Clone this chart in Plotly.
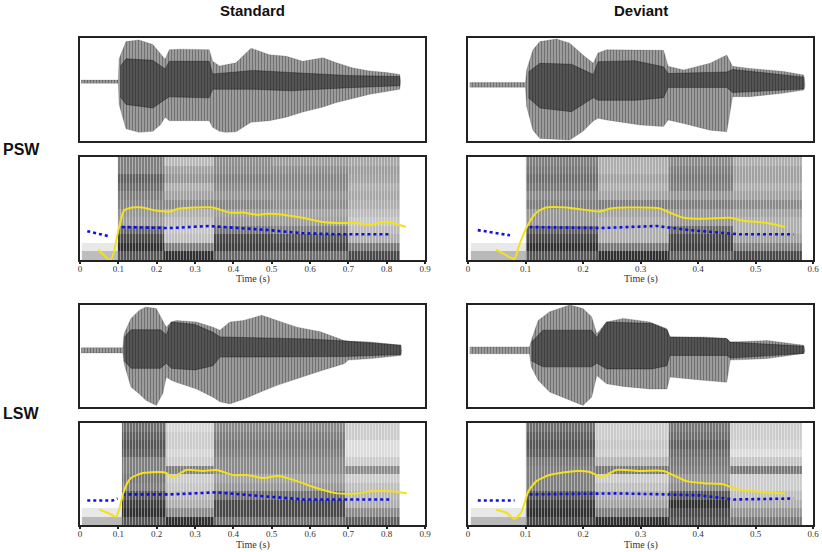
import plotly.graph_objects as go

# ---------------- DATA ----------------
tick_vals_std = [0, 0.1, 0.2, 0.3, 0.4, 0.5, 0.6, 0.7, 0.8, 0.9]
tick_text_std = ["0", "0.1", "0.2", "0.3", "0.4", "0.5", "0.6", "0.7", "0.8", "0.9"]
tick_vals_dev = [0, 0.1, 0.2, 0.3, 0.4, 0.5, 0.6]
tick_text_dev = ["0", "0.1", "0.2", "0.3", "0.4", "0.5", "0.6"]

# --- waveform envelopes (time s, upper amplitude, lower amplitude) ---
psw_std_t  = [0.003, 0.10, 0.102, 0.12, 0.154, 0.19, 0.21, 0.222, 0.233, 0.26, 0.337, 0.346, 0.364, 0.38, 0.407,
              0.446, 0.494, 0.538, 0.581, 0.634, 0.669, 0.712, 0.756, 0.80, 0.834, 0.836]
psw_std_up = [0.03, 0.03, 0.45, 0.79, 0.82, 0.73, 0.55, 0.44, 0.63, 0.64, 0.63, 0.40, 0.31, 0.33, 0.37,
              0.66, 0.53, 0.50, 0.40, 0.47, 0.37, 0.27, 0.21, 0.18, 0.14, 0.02]
psw_std_dn = [0.03, 0.03, 0.45, 0.93, 1.00, 0.98, 0.85, 0.70, 0.77, 0.77, 0.77, 0.90, 0.98, 1.00, 0.99,
              0.80, 0.77, 0.70, 0.60, 0.50, 0.41, 0.33, 0.25, 0.19, 0.15, 0.02]
psw_std_core_t  = [0.105, 0.12, 0.19, 0.222, 0.233, 0.337, 0.346, 0.45, 0.55, 0.70, 0.834]
psw_std_core_up = [0.30, 0.45, 0.42, 0.25, 0.40, 0.40, 0.15, 0.22, 0.18, 0.12, 0.10]
psw_std_core_dn = [0.30, 0.45, 0.52, 0.35, 0.30, 0.32, 0.15, 0.15, 0.18, 0.12, 0.08]

psw_dev_t  = [0.003, 0.10, 0.102, 0.113, 0.125, 0.154, 0.177, 0.20, 0.218, 0.226, 0.241, 0.30, 0.34, 0.348,
              0.375, 0.421, 0.45, 0.46, 0.49, 0.549, 0.584, 0.586]
psw_dev_up = [0.045, 0.045, 0.29, 0.68, 0.84, 0.89, 0.81, 0.58, 0.42, 0.62, 0.68, 0.68, 0.67, 0.36,
              0.29, 0.42, 0.58, 0.36, 0.32, 0.26, 0.19, 0.02]
psw_dev_dn = [0.045, 0.045, 0.42, 0.88, 1.04, 1.06, 1.07, 0.90, 0.70, 0.65, 0.68, 0.78, 0.81, 0.68,
              0.75, 0.88, 0.91, 0.23, 0.23, 0.16, 0.10, 0.02]
psw_dev_core_t  = [0.105, 0.125, 0.18, 0.218, 0.226, 0.29, 0.34, 0.348, 0.45, 0.46, 0.584]
psw_dev_core_up = [0.25, 0.42, 0.40, 0.20, 0.45, 0.47, 0.35, 0.22, 0.25, 0.30, 0.15]
psw_dev_core_dn = [0.25, 0.45, 0.52, 0.25, 0.30, 0.30, 0.25, 0.05, 0.05, 0.15, 0.08]

lsw_std_t  = [0.003, 0.112, 0.115, 0.133, 0.155, 0.172, 0.199, 0.216, 0.225, 0.238, 0.251, 0.304, 0.347, 0.365,
              0.391, 0.426, 0.474, 0.514, 0.566, 0.627, 0.689, 0.70, 0.759, 0.837, 0.839]
lsw_std_up = [0.05, 0.05, 0.32, 0.62, 0.78, 0.84, 0.81, 0.58, 0.45, 0.55, 0.58, 0.55, 0.45, 0.39,
              0.55, 0.58, 0.68, 0.58, 0.45, 0.36, 0.19, 0.18, 0.16, 0.10, 0.02]
lsw_std_dn = [0.05, 0.05, 0.26, 0.71, 0.85, 0.97, 1.07, 0.84, 0.52, 0.58, 0.62, 0.75, 0.91, 1.00,
              1.04, 0.95, 0.80, 0.68, 0.55, 0.40, 0.26, 0.19, 0.16, 0.10, 0.02]
lsw_std_core_t  = [0.115, 0.133, 0.21, 0.225, 0.238, 0.30, 0.347, 0.365, 0.60, 0.69, 0.837]
lsw_std_core_up = [0.25, 0.40, 0.40, 0.30, 0.55, 0.50, 0.35, 0.26, 0.22, 0.18, 0.10]
lsw_std_core_dn = [0.20, 0.35, 0.35, 0.25, 0.35, 0.38, 0.30, 0.13, 0.12, 0.12, 0.08]

lsw_dev_t  = [0.003, 0.107, 0.110, 0.122, 0.142, 0.177, 0.20, 0.215, 0.224, 0.241, 0.27, 0.316, 0.346, 0.351,
              0.409, 0.45, 0.456, 0.52, 0.584, 0.586]
lsw_dev_up = [0.065, 0.065, 0.19, 0.58, 0.75, 0.88, 0.81, 0.65, 0.32, 0.55, 0.62, 0.55, 0.42, 0.26,
              0.26, 0.23, 0.16, 0.19, 0.10, 0.02]
lsw_dev_dn = [0.065, 0.065, 0.32, 0.58, 0.81, 0.97, 1.07, 0.91, 0.49, 0.65, 0.70, 0.75, 0.75, 0.52,
              0.58, 0.62, 0.19, 0.16, 0.06, 0.02]
lsw_dev_core_t  = [0.11, 0.13, 0.215, 0.224, 0.241, 0.32, 0.346, 0.351, 0.45, 0.456, 0.584]
lsw_dev_core_up = [0.15, 0.39, 0.39, 0.25, 0.55, 0.52, 0.40, 0.26, 0.23, 0.16, 0.08]
lsw_dev_core_dn = [0.20, 0.32, 0.32, 0.25, 0.36, 0.36, 0.30, 0.10, 0.10, 0.15, 0.06]

# --- spectrogram darkness (rows: 12 frequency bands bottom->top, cols: time segments) ---
freq_edges = [0, 1/12, 2/12, 3/12, 4/12, 5/12, 6/12, 7/12, 8/12, 9/12, 10/12, 11/12, 1]

psw_std_seg = [0.005, 0.10, 0.22, 0.35, 0.50, 0.70, 0.835]
psw_std_z = [
    [0.28, 0.72, 0.88, 0.65, 0.62, 0.78],
    [0.10, 0.88, 0.55, 0.82, 0.80, 0.58],
    [0.00, 0.78, 0.28, 0.78, 0.72, 0.35],
    [0.00, 0.65, 0.25, 0.60, 0.55, 0.30],
    [0.00, 0.42, 0.30, 0.45, 0.42, 0.25],
    [0.00, 0.45, 0.35, 0.42, 0.40, 0.30],
    [0.00, 0.52, 0.50, 0.52, 0.48, 0.35],
    [0.00, 0.55, 0.40, 0.45, 0.45, 0.38],
    [0.00, 0.62, 0.35, 0.50, 0.50, 0.35],
    [0.00, 0.68, 0.45, 0.55, 0.52, 0.40],
    [0.00, 0.55, 0.40, 0.50, 0.48, 0.42],
    [0.00, 0.55, 0.30, 0.48, 0.42, 0.38],
]

psw_dev_seg = [0.005, 0.10, 0.225, 0.35, 0.46, 0.58]
psw_dev_z = [
    [0.30, 0.72, 0.88, 0.68, 0.78],
    [0.10, 0.88, 0.58, 0.82, 0.55],
    [0.00, 0.78, 0.35, 0.78, 0.40],
    [0.00, 0.68, 0.35, 0.65, 0.35],
    [0.00, 0.45, 0.35, 0.45, 0.35],
    [0.00, 0.45, 0.40, 0.45, 0.40],
    [0.00, 0.55, 0.55, 0.55, 0.50],
    [0.00, 0.50, 0.40, 0.45, 0.40],
    [0.00, 0.58, 0.35, 0.55, 0.35],
    [0.00, 0.62, 0.40, 0.58, 0.40],
    [0.00, 0.58, 0.35, 0.55, 0.40],
    [0.00, 0.55, 0.35, 0.50, 0.35],
]

lsw_std_seg = [0.005, 0.11, 0.225, 0.35, 0.69, 0.835]
lsw_std_z = [
    [0.30, 0.72, 0.88, 0.62, 0.68],
    [0.10, 0.88, 0.50, 0.78, 0.50],
    [0.00, 0.82, 0.35, 0.78, 0.35],
    [0.00, 0.72, 0.30, 0.62, 0.32],
    [0.00, 0.55, 0.25, 0.45, 0.28],
    [0.00, 0.58, 0.22, 0.40, 0.22],
    [0.00, 0.55, 0.55, 0.50, 0.50],
    [0.00, 0.55, 0.22, 0.50, 0.22],
    [0.00, 0.68, 0.18, 0.55, 0.15],
    [0.00, 0.72, 0.22, 0.58, 0.15],
    [0.00, 0.68, 0.22, 0.55, 0.22],
    [0.00, 0.62, 0.18, 0.50, 0.22],
]

lsw_dev_seg = [0.005, 0.10, 0.22, 0.35, 0.455, 0.58]
lsw_dev_z = [
    [0.30, 0.78, 0.88, 0.72, 0.58],
    [0.10, 0.88, 0.55, 0.78, 0.45],
    [0.00, 0.82, 0.40, 0.88, 0.35],
    [0.00, 0.72, 0.35, 0.72, 0.28],
    [0.00, 0.55, 0.28, 0.50, 0.22],
    [0.00, 0.55, 0.22, 0.45, 0.22],
    [0.00, 0.55, 0.58, 0.55, 0.58],
    [0.00, 0.58, 0.32, 0.58, 0.25],
    [0.00, 0.68, 0.22, 0.62, 0.15],
    [0.00, 0.72, 0.25, 0.68, 0.20],
    [0.00, 0.68, 0.22, 0.62, 0.22],
    [0.00, 0.62, 0.22, 0.58, 0.22],
]

# --- pitch (yellow) and intensity (blue dotted) contours, normalised height ---
psw_std_f0_t = [0.048, 0.080, 0.102, 0.115, 0.137, 0.163, 0.198, 0.233, 0.259, 0.303, 0.346, 0.39, 0.425, 0.459,
                0.494, 0.529, 0.58, 0.634, 0.669, 0.721, 0.756, 0.791, 0.817, 0.850]
psw_std_f0 = [0.10, 0.00, 0.32, 0.48, 0.51, 0.51, 0.48, 0.47, 0.50, 0.51, 0.51, 0.46, 0.46, 0.44,
              0.45, 0.44, 0.41, 0.37, 0.36, 0.36, 0.34, 0.37, 0.36, 0.32]
psw_std_int1_t = [0.019, 0.076]
psw_std_int1 = [0.28, 0.23]
psw_std_int2_t = [0.109, 0.233, 0.337, 0.494, 0.58, 0.669, 0.808]
psw_std_int2 = [0.32, 0.31, 0.33, 0.29, 0.26, 0.25, 0.25]

psw_dev_f0_t = [0.049, 0.075, 0.081, 0.09, 0.105, 0.119, 0.136, 0.171, 0.212, 0.229, 0.247, 0.282, 0.334, 0.351,
                0.375, 0.409, 0.456, 0.479, 0.52, 0.552]
psw_dev_f0 = [0.10, 0.02, 0.01, 0.16, 0.35, 0.46, 0.51, 0.51, 0.48, 0.47, 0.50, 0.51, 0.50, 0.46,
              0.41, 0.40, 0.41, 0.38, 0.36, 0.32]
psw_dev_int1_t = [0.017, 0.073]
psw_dev_int1 = [0.29, 0.24]
psw_dev_int2_t = [0.107, 0.229, 0.328, 0.386, 0.473, 0.566]
psw_dev_int2 = [0.32, 0.31, 0.33, 0.29, 0.25, 0.25]

lsw_std_f0_t = [0.050, 0.072, 0.094, 0.102, 0.116, 0.133, 0.164, 0.207, 0.225, 0.242, 0.277, 0.321, 0.356, 0.40,
                0.435, 0.479, 0.518, 0.566, 0.619, 0.671, 0.724, 0.758, 0.811, 0.853]
lsw_std_f0 = [0.15, 0.12, 0.08, 0.15, 0.35, 0.46, 0.51, 0.52, 0.51, 0.47, 0.54, 0.53, 0.54, 0.49,
              0.49, 0.46, 0.48, 0.43, 0.36, 0.31, 0.31, 0.33, 0.33, 0.31]
lsw_std_int1_t = [0.019, 0.085, 0.098]
lsw_std_int1 = [0.24, 0.24, 0.26]
lsw_std_int2_t = [0.111, 0.234, 0.356, 0.461, 0.584, 0.811]
lsw_std_int2 = [0.30, 0.30, 0.32, 0.29, 0.25, 0.25]

lsw_dev_f0_t = [0.049, 0.067, 0.081, 0.093, 0.105, 0.119, 0.142, 0.189, 0.212, 0.232, 0.258, 0.299, 0.34, 0.38,
                0.409, 0.444, 0.462, 0.479, 0.52, 0.552]
lsw_dev_f0 = [0.15, 0.12, 0.06, 0.13, 0.33, 0.43, 0.49, 0.53, 0.52, 0.47, 0.54, 0.53, 0.53, 0.43,
              0.41, 0.40, 0.36, 0.34, 0.32, 0.31]
lsw_dev_int1_t = [0.017, 0.081]
lsw_dev_int1 = [0.24, 0.24]
lsw_dev_int2_t = [0.107, 0.258, 0.346, 0.404, 0.462, 0.566]
lsw_dev_int2 = [0.30, 0.31, 0.30, 0.29, 0.25, 0.26]

col_titles = ["Standard", "Deviant"]
row_titles = ["PSW", "LSW"]

# ---------------- LAYOUT GEOMETRY ----------------
W, H = 822, 552
col_px = [(80, 425), (468, 813)]
wave_rows_px = [(38, 141), (305, 407)]
spec_rows_px = [(157, 260), (423, 525)]
time_title_px = [279, 545]

def xdom(c):
    return [col_px[c][0] / W, col_px[c][1] / W]

def ydom(p):
    return [1 - p[1] / H, 1 - p[0] / H]

fig = go.Figure()
layout = {}
ax_n = [0]

def new_axes(xd, yd, xrange, yrange, spec=False, tv=None, tt=None):
    ax_n[0] += 1
    n = ax_n[0]
    xa = "xaxis" if n == 1 else f"xaxis{n}"
    ya = "yaxis" if n == 1 else f"yaxis{n}"
    xr = "x" if n == 1 else f"x{n}"
    yr = "y" if n == 1 else f"y{n}"
    common = dict(showline=True, mirror=True, linecolor="#222", linewidth=1.5,
                  showgrid=False, zeroline=False, automargin=False)
    xcfg = dict(domain=xd, range=xrange, anchor=yr, **common)
    if spec:
        xcfg.update(tickvals=tv, ticktext=tt, ticks="outside", ticklen=2, tickwidth=1.5,
                    tickcolor="#222", showticklabels=True, ticklabelstandoff=-3,
                    tickfont=dict(family="Liberation Serif", size=9, color="#333"))
    else:
        xcfg.update(showticklabels=False, ticks="")
    ycfg = dict(domain=yd, range=yrange, anchor=xr, showticklabels=False, ticks="", **common)
    layout[xa] = xcfg
    layout[ya] = ycfg
    return xr, yr

def add_wave(c, r, t, up, dn, ct, cup, cdn, yrange, xmax):
    xr, yr = new_axes(xdom(c), ydom(wave_rows_px[r]), [0, xmax], yrange)
    xs = list(t) + list(t[::-1])
    ys = list(up) + [-v for v in dn[::-1]]
    fig.add_trace(go.Scatter(x=xs, y=ys, xaxis=xr, yaxis=yr, mode="lines", fill="toself",
                             fillcolor="#555555", line=dict(color="rgba(40,40,40,0.4)", width=0.5),
                             fillpattern=dict(shape="|", size=3, solidity=0.7,
                                              fgcolor="#0d0d0d", bgcolor="#d2d2d2"),
                             hoverinfo="skip", showlegend=False))
    cxs = list(ct) + list(ct[::-1])
    cys = list(cup) + [-v for v in cdn[::-1]]
    fig.add_trace(go.Scatter(x=cxs, y=cys, xaxis=xr, yaxis=yr, mode="lines", fill="toself",
                             fillcolor="rgba(25,25,25,0.55)", line=dict(color="rgba(15,15,15,0.6)", width=0.6),
                             hoverinfo="skip", showlegend=False))

def add_spec(c, r, seg, z, f0t, f0, i1t, i1, i2t, i2, xmax, tv, tt):
    xr, yr = new_axes(xdom(c), ydom(spec_rows_px[r]), [0, xmax], [0, 1], spec=True, tv=tv, tt=tt)
    fig.add_trace(go.Heatmap(x=seg, y=freq_edges, z=z, xaxis=xr, yaxis=yr, zmin=0, zmax=1,
                             colorscale=[[0, "#ffffff"], [1, "#141414"]], showscale=False,
                             hoverinfo="skip"))
    # vertical striations over the voiced part
    on, off = seg[1], seg[-1]
    fig.add_trace(go.Scatter(x=[on, off, off, on, on], y=[0, 0, 1, 1, 0], xaxis=xr, yaxis=yr,
                             mode="lines", fill="toself", fillcolor="rgba(0,0,0,0)",
                             line=dict(width=0),
                             fillpattern=dict(shape="|", size=3, solidity=0.3,
                                              fgcolor="#ffffff", fgopacity=0.45, bgcolor="rgba(0,0,0,0)"),
                             hoverinfo="skip", showlegend=False))
    for tt_, vv in ((i1t, i1), (i2t, i2)):
        fig.add_trace(go.Scatter(x=tt_, y=vv, xaxis=xr, yaxis=yr, mode="lines",
                                 line=dict(color="#1010e0", width=2.6, dash="dot"),
                                 hoverinfo="skip", showlegend=False))
    fig.add_trace(go.Scatter(x=f0t, y=f0, xaxis=xr, yaxis=yr, mode="lines",
                             line=dict(color="#f2e21a", width=2, shape="spline", smoothing=0.6),
                             hoverinfo="skip", showlegend=False))

# PSW
add_wave(0, 0, psw_std_t, psw_std_up, psw_std_dn, psw_std_core_t, psw_std_core_up, psw_std_core_dn, [-1.17, 0.86], 0.9)
add_wave(1, 0, psw_dev_t, psw_dev_up, psw_dev_dn, psw_dev_core_t, psw_dev_core_up, psw_dev_core_dn, [-1.09, 0.91], 0.6)
add_spec(0, 0, psw_std_seg, psw_std_z, psw_std_f0_t, psw_std_f0, psw_std_int1_t, psw_std_int1,
         psw_std_int2_t, psw_std_int2, 0.9, tick_vals_std, tick_text_std)
add_spec(1, 0, psw_dev_seg, psw_dev_z, psw_dev_f0_t, psw_dev_f0, psw_dev_int1_t, psw_dev_int1,
         psw_dev_int2_t, psw_dev_int2, 0.6, tick_vals_dev, tick_text_dev)
# LSW
add_wave(0, 1, lsw_std_t, lsw_std_up, lsw_std_dn, lsw_std_core_t, lsw_std_core_up, lsw_std_core_dn, [-1.10, 0.88], 0.9)
add_wave(1, 1, lsw_dev_t, lsw_dev_up, lsw_dev_dn, lsw_dev_core_t, lsw_dev_core_up, lsw_dev_core_dn, [-1.10, 0.88], 0.6)
add_spec(0, 1, lsw_std_seg, lsw_std_z, lsw_std_f0_t, lsw_std_f0, lsw_std_int1_t, lsw_std_int1,
         lsw_std_int2_t, lsw_std_int2, 0.9, tick_vals_std, tick_text_std)
add_spec(1, 1, lsw_dev_seg, lsw_dev_z, lsw_dev_f0_t, lsw_dev_f0, lsw_dev_int1_t, lsw_dev_int1,
         lsw_dev_int2_t, lsw_dev_int2, 0.6, tick_vals_dev, tick_text_dev)

annotations = []
for c, txt in enumerate(col_titles):
    annotations.append(dict(text=f"<b>{txt}</b>", x=(col_px[c][0] + col_px[c][1]) / 2 / W, y=1 - 11 / H,
                            xref="paper", yref="paper", showarrow=False, xanchor="center", yanchor="middle",
                            font=dict(family="Liberation Sans", size=15, color="#111")))
for r, txt in enumerate(row_titles):
    yc = [149, 413][r]
    annotations.append(dict(text=f"<b>{txt}</b>", x=21 / W, y=1 - yc / H,
                            xref="paper", yref="paper", showarrow=False, xanchor="center", yanchor="middle",
                            font=dict(family="Liberation Sans", size=16, color="#111")))
for r in range(2):
    for c in range(2):
        annotations.append(dict(text="Time (s)", x=(col_px[c][0] + col_px[c][1]) / 2 / W,
                                y=1 - time_title_px[r] / H, xref="paper", yref="paper", showarrow=False,
                                xanchor="center", yanchor="middle",
                                font=dict(family="Liberation Serif", size=10, color="#333")))

fig.update_layout(width=W, height=H, margin=dict(l=0, r=0, t=0, b=0),
                  paper_bgcolor="white", plot_bgcolor="white", annotations=annotations, **layout)

fig.write_html("out.html", config={"displayModeBar": False},
               post_script="document.body.style.margin='0';")
